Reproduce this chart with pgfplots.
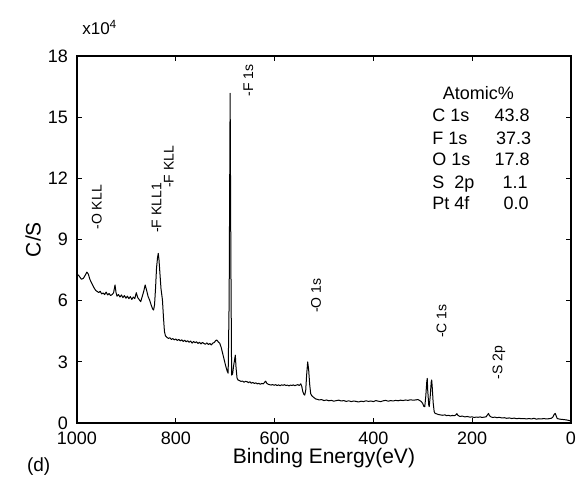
\documentclass[border=0pt]{standalone}
\usepackage{fontspec}
\setmainfont{Liberation Sans}
\usepackage{pgfplots}
\pgfplotsset{compat=1.18}
\begin{document}
\begin{tikzpicture}
\path[use as bounding box] (-38.5pt,-27.5pt) rectangle (250pt,211.5pt);
\begin{axis}[
  scale only axis, width=247pt, height=183.5pt,
  at={(0,0)}, anchor=south west,
  x dir=reverse, xmin=0, xmax=1000, ymin=0, ymax=18,
  xtick={0,200,...,1000}, ytick={0,3,...,18},
  tick align=inside, major tick length=2.5pt,
  axis line style={line width=0.75pt},
  tick style={line width=0.6pt, black},
  tick label style={font=\fontsize{9}{10}\selectfont},
  yticklabel style={xshift=-1pt},
  xticklabel style={yshift=-0.8pt},
  /pgf/number format/assume math mode=true,
  /pgf/number format/1000 sep={},
  xlabel={Binding Energy(eV)}, ylabel={C/S},
  label style={font=\fontsize{10.5}{12}\selectfont},
  xlabel style={at={(axis description cs:0.5,-0.095)}, anchor=center},
  ylabel style={at={(axis description cs:-0.089,0.5)}, anchor=center},
  clip=false,
]
\addplot[black, line width=0.5pt, line join=round] coordinates {
(1000,7.20)(997,7.26)(994,7.15)(991,7.05)(987,7.10)(984,7.22)(980,7.40)(977,7.30)
(974,7.05)(970,6.85)(966,6.65)(962,6.50)(959,6.45)(956,6.40)(953,6.46)(950,6.33)
(947,6.38)(944,6.30)(941,6.42)(938,6.28)(935,6.35)(932,6.25)(929,6.30)(926,6.38)
(923,6.77)(921,6.40)(919,6.22)(916,6.30)(913,6.18)(910,6.28)(907,6.15)(904,6.25)
(901,6.12)(898,6.22)(895,6.10)(892,6.20)(889,6.06)(886,6.18)(883,6.10)(880,6.39)
(877,6.15)(874,6.05)(871,5.95)(868,6.20)(865,6.45)(862,6.77)(859,6.50)(856,6.20)
(853,6.03)(850,5.80)(847,5.60)(845,5.54)(843,5.80)(841,6.60)(839,7.60)(837,8.10)
(835.5,8.32)(834,8.00)(832,7.30)(830,6.60)(827,6.03)(825,5.20)(823,4.50)(821,4.28)
(818,4.20)(815,4.15)(812,4.18)(809,4.10)(806,4.14)(803,4.08)(800,4.12)(797,4.05)
(794,4.10)(791,4.03)(788,4.08)(785,4.00)(782,4.06)(779,3.98)(776,4.04)(773,3.96)
(770,4.02)(767,3.92)(764,4.00)(761,3.94)(758,3.98)(755,3.90)(752,3.96)(749,3.88)
(746,3.95)(743,3.90)(740,3.86)(737,3.93)(734,3.85)(731,3.90)(728,3.83)(725,3.92)
(722,3.95)(719,4.05)(717,4.07)(714,3.98)(711,3.91)(708,3.70)(705,3.40)(702,3.10)
(699,2.80)(696,2.55)(694,2.44)(692,6.00)(690,16.17)(688.5,8.00)(687,2.35)(685,2.40)
(683,2.80)(681,3.10)(679.5,3.33)(678,2.70)(676,2.20)(674,2.11)(671,2.08)(668,2.04)
(665,2.06)(662,2.00)(659,2.04)(656,2.03)(653,1.98)(650,2.02)(647,1.95)(644,1.99)
(641,1.94)(638,1.97)(635,1.92)(632,1.95)(629,1.90)(626,1.94)(623,1.92)(620,2.00)
(618,2.05)(616,1.95)(613,1.90)(610,1.88)(607,1.86)(604,1.89)(601,1.85)(598,1.88)
(595,1.84)(592,1.87)(589,1.83)(586,1.87)(583,1.85)(580,1.88)(577,1.84)(574,1.86)
(571,1.82)(568,1.86)(565,1.84)(562,1.87)(559,1.83)(556,1.86)(553,1.88)(550,1.84)
(547,1.92)(545,1.80)(543,1.55)(541,1.42)(539,1.37)(537,1.60)(535,2.40)(533,3.00)
(531,2.60)(529,1.90)(527,1.45)(525,1.35)(522,1.28)(519,1.22)(516,1.17)(513,1.16)
(510,1.13)(505,1.15)(500,1.10)(495,1.13)(490,1.09)(485,1.11)(480,1.07)(475,1.10)
(470,1.12)(465,1.08)(460,1.10)(455,1.06)(450,1.09)(445,1.05)(440,1.08)(435,1.06)
(430,1.03)(425,1.07)(420,1.05)(415,1.09)(410,1.06)(405,1.08)(400,1.05)(395,1.10)
(390,1.07)(385,1.05)(380,1.09)(375,1.11)(370,1.07)(365,1.10)(360,1.08)(355,1.11)
(350,1.09)(345,1.12)(340,1.10)(335,1.13)(330,1.11)(325,1.14)(320,1.12)(315,1.13)
(310,1.15)(306,1.10)(303,1.05)(300,0.95)(298,0.82)(296,0.80)(294,1.30)(292,2.00)
(291,2.19)(290,1.60)(288,0.90)(287,0.80)(285,1.30)(283,2.00)(282,2.11)(281,1.80)
(279,1.00)(277,0.56)(275,0.47)(272,0.45)(269,0.42)(265,0.40)(260,0.38)(255,0.40)
(252,0.36)(248,0.38)(244,0.35)(240,0.37)(236,0.36)(233,0.40)(231,0.46)(229,0.38)
(225,0.32)(220,0.34)(215,0.30)(210,0.32)(205,0.29)(200,0.30)(196,0.27)(192,0.29)
(188,0.28)(184,0.30)(180,0.27)(176,0.29)(172,0.30)(169,0.40)(167,0.47)(165,0.36)
(162,0.30)(158,0.27)(154,0.29)(150,0.26)(145,0.28)(140,0.25)(135,0.26)(130,0.23)
(125,0.25)(120,0.22)(115,0.24)(110,0.21)(105,0.23)(100,0.21)(95,0.22)(90,0.20)
(85,0.22)(80,0.20)(75,0.23)(70,0.19)(65,0.21)(60,0.20)(55,0.22)(50,0.20)
(45,0.21)(40,0.23)(37,0.28)(34,0.42)(32,0.47)(30,0.35)(28,0.22)(25,0.20)
(20,0.18)(15,0.17)(12,0.16)(9,0.15)(5,0.13)(2,0.11)(0,0.10)
};
% peak labels
\begin{scope}[every node/.style={rotate=90, anchor=west, inner sep=0pt, font=\fontsize{7}{8}\selectfont}]
\node at (axis cs:960,9.47) {-O KLL};
\node at (axis cs:839,9.30) {-F KLL1};
\node at (axis cs:814,11.51) {-F KLL};
\node at (axis cs:653,16.0) {-F 1s};
\node at (axis cs:516,5.38) {-O 1s};
\node at (axis cs:262,4.15) {-C 1s};
\node at (axis cs:146,2.11) {-S 2p};
\end{scope}
% atomic table
\begin{scope}[every node/.style={inner sep=0pt, font=\fontsize{9}{10}\selectfont}]
\node[anchor=base] at (axis cs:187.5,15.87) {Atomic\%};
\node[anchor=base west] at (axis cs:281.4,14.78) {C 1s};
\node[anchor=base west] at (axis cs:281.4,13.68) {F 1s};
\node[anchor=base west] at (axis cs:281.4,12.61) {O 1s};
\node[anchor=base west] at (axis cs:281.4,11.51) {S\ \ 2p};
\node[anchor=base west] at (axis cs:281.4,10.45) {Pt 4f};
\node[anchor=base east] at (axis cs:83,14.78) {43.8};
\node[anchor=base east] at (axis cs:80,13.68) {37.3};
\node[anchor=base east] at (axis cs:83,12.61) {17.8};
\node[anchor=base east] at (axis cs:87,11.51) {1.1};
\node[anchor=base east] at (axis cs:85,10.45) {0.0};
\end{scope}
\node[anchor=base west, inner sep=0pt, font=\fontsize{8.5}{10}\selectfont] at (axis cs:990,19.06) {x10\textsuperscript{4}};
\node[anchor=base west, inner sep=0pt, font=\fontsize{9.5}{11}\selectfont] at (axis cs:1102,-2.40) {(d)};
\end{axis}
\end{tikzpicture}
\end{document}
